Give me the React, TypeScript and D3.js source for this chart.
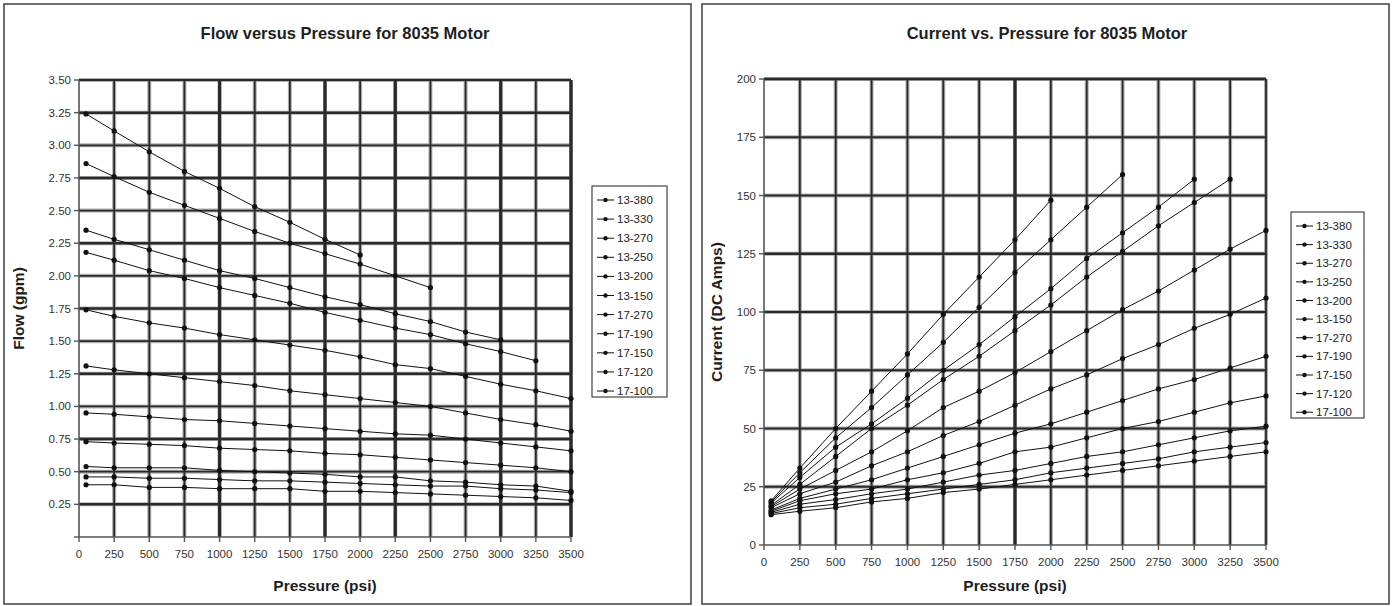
import React from 'react';
import * as d3 from 'd3';

// Pressure readings (psi) shared by both charts
const pressure = [50, 250, 500, 750, 1000, 1250, 1500, 1750, 2000, 2250, 2500, 2750, 3000, 3250, 3500];
const xTickValues = [0, 250, 500, 750, 1000, 1250, 1500, 1750, 2000, 2250, 2500, 2750, 3000, 3250, 3500];

const seriesNames = ['13-380', '13-330', '13-270', '13-250', '13-200', '13-150', '17-270', '17-190', '17-150', '17-120', '17-100'];

// Flow (gpm) per motor model
const flow13_380 = [3.24, 3.11, 2.95, 2.80, 2.67, 2.53, 2.41, 2.28, 2.16];
const flow13_330 = [2.86, 2.76, 2.64, 2.54, 2.44, 2.34, 2.25, 2.17, 2.09, 2.00, 1.91];
const flow13_270 = [2.35, 2.28, 2.20, 2.12, 2.04, 1.98, 1.91, 1.84, 1.78, 1.71, 1.65, 1.57, 1.51];
const flow13_250 = [2.18, 2.12, 2.04, 1.98, 1.91, 1.85, 1.79, 1.72, 1.66, 1.60, 1.55, 1.48, 1.42, 1.35];
const flow13_200 = [1.74, 1.69, 1.64, 1.60, 1.55, 1.51, 1.47, 1.43, 1.38, 1.32, 1.29, 1.23, 1.17, 1.12, 1.06];
const flow13_150 = [1.31, 1.28, 1.25, 1.22, 1.19, 1.16, 1.12, 1.09, 1.06, 1.03, 1.00, 0.95, 0.90, 0.86, 0.81];
const flow17_270 = [0.95, 0.94, 0.92, 0.90, 0.89, 0.87, 0.85, 0.83, 0.81, 0.79, 0.78, 0.75, 0.72, 0.69, 0.66];
const flow17_190 = [0.73, 0.72, 0.71, 0.70, 0.68, 0.67, 0.66, 0.64, 0.63, 0.61, 0.59, 0.57, 0.55, 0.53, 0.50];
const flow17_150 = [0.54, 0.53, 0.53, 0.53, 0.51, 0.50, 0.49, 0.48, 0.46, 0.46, 0.43, 0.42, 0.40, 0.39, 0.35];
const flow17_120 = [0.46, 0.46, 0.45, 0.45, 0.44, 0.43, 0.43, 0.42, 0.41, 0.40, 0.39, 0.39, 0.37, 0.36, 0.34];
const flow17_100 = [0.40, 0.40, 0.38, 0.38, 0.37, 0.37, 0.37, 0.35, 0.35, 0.34, 0.33, 0.32, 0.31, 0.30, 0.28];

// Current (DC amps) per motor model
const cur13_380 = [19, 33, 50, 66, 82, 99, 115, 131, 148];
const cur13_330 = [18.5, 31, 46, 59, 73, 87, 102, 117, 131, 145, 159];
const cur13_270 = [18, 29, 42, 52, 63, 75, 86, 98, 110, 123, 134, 145, 157];
const cur13_250 = [17, 26, 38, 50, 60, 71, 81, 92, 103, 115, 126, 137, 147, 157];
const cur13_200 = [16.5, 24, 32, 40, 49, 59, 66, 74, 83, 92, 101, 109, 118, 127, 135];
const cur13_150 = [16, 22, 27, 34, 40, 47, 53, 60, 67, 73, 80, 86, 93, 99, 106];
const cur17_270 = [15, 20, 24, 28, 33, 38, 43, 48, 52, 57, 62, 67, 71, 76, 81];
const cur17_190 = [14.5, 19, 22, 24, 28, 31, 35, 40, 42, 46, 50, 53, 57, 61, 64];
const cur17_150 = [14, 17.5, 19.5, 22, 24, 27, 30, 32, 35, 38, 40, 43, 46, 49, 51];
const cur17_120 = [13.5, 16, 17.5, 20, 22, 24, 26, 28, 31, 33, 35, 37, 40, 42, 44];
const cur17_100 = [13, 14.5, 16, 18.5, 20, 22.5, 24, 26, 28, 30, 32, 34, 36, 38, 40];

const flowTicks = [0.25, 0.5, 0.75, 1, 1.25, 1.5, 1.75, 2, 2.25, 2.5, 2.75, 3, 3.25, 3.5];
const currentTicks = [0, 25, 50, 75, 100, 125, 150, 175, 200];

const flowSeries = [flow13_380, flow13_330, flow13_270, flow13_250, flow13_200, flow13_150, flow17_270, flow17_190, flow17_150, flow17_120, flow17_100];
const currentSeries = [cur13_380, cur13_330, cur13_270, cur13_250, cur13_200, cur13_150, cur17_270, cur17_190, cur17_150, cur17_120, cur17_100];

const FONT = '"Liberation Sans", Arial, sans-serif';
const INK = '#1e1e1e';

type Box = { left: number; right: number; top: number; bottom: number };

type PanelProps = {
  frame: Box;
  plot: Box;
  title: string;
  titleX: number;
  yTitle: string;
  yTitleX: number;
  xTitleX: number;
  yDomain: [number, number];
  yTicks: number[];
  yFormat: (v: number) => string;
  series: number[][];
  legend: Box;
  heavyX: number[];
  heavyY: number[];
};

function Panel(p: PanelProps) {
  const x = d3.scaleLinear().domain([0, 3500]).range([p.plot.left, p.plot.right]);
  const y = d3.scaleLinear().domain(p.yDomain).range([p.plot.bottom, p.plot.top]);
  const line = d3
    .line<number>()
    .x((_, i) => x(pressure[i]))
    .y((d) => y(d));

  const gridY = p.yTicks.filter((t) => t > p.yDomain[0]);
  const gridX = xTickValues.filter((t) => t > 0);
  const rowH = (p.legend.bottom - p.legend.top - 12) / (seriesNames.length - 1) * 0.96;

  return (
    <g>
      <rect
        x={p.frame.left}
        y={p.frame.top}
        width={p.frame.right - p.frame.left}
        height={p.frame.bottom - p.frame.top}
        fill="#fff"
        stroke="#4a4a4a"
        strokeWidth={1.6}
      />
      <text x={p.titleX} y={39} textAnchor="middle" fontFamily={FONT} fontWeight="bold" fontSize={16.5} fill={INK}>
        {p.title}
      </text>

      {/* grid: soft halo under a dark core */}
      {gridX.map((t) => (
        <line key={'hx' + t} x1={x(t)} x2={x(t)} y1={p.plot.top} y2={p.plot.bottom} stroke="#b0b0b0" strokeWidth={4} />
      ))}
      {gridY.map((t) => (
        <line key={'hy' + t} x1={p.plot.left} x2={p.plot.right} y1={y(t)} y2={y(t)} stroke="#b0b0b0" strokeWidth={4} />
      ))}
      {gridX.map((t) => (
        <line
          key={'gx' + t}
          x1={x(t)}
          x2={x(t)}
          y1={p.plot.top}
          y2={p.plot.bottom}
          stroke="#2a2a2a"
          strokeWidth={p.heavyX.includes(t) ? 3.2 : 1.8}
        />
      ))}
      {gridY.map((t) => (
        <line
          key={'gy' + t}
          x1={p.plot.left}
          x2={p.plot.right}
          y1={y(t)}
          y2={y(t)}
          stroke="#2a2a2a"
          strokeWidth={p.heavyY.includes(t) ? 2.5 : 1.8}
        />
      ))}

      {/* axes */}
      <line x1={p.plot.left} x2={p.plot.left} y1={p.plot.top} y2={p.plot.bottom} stroke="#555" strokeWidth={1.6} />
      <line x1={p.plot.left} x2={p.plot.right} y1={p.plot.bottom} y2={p.plot.bottom} stroke="#555" strokeWidth={1.6} />
      {p.yTicks.concat(p.yTicks.includes(p.yDomain[0]) ? [] : [p.yDomain[0]]).map((t) => (
        <line key={'ty' + t} x1={p.plot.left - 5} x2={p.plot.left} y1={y(t)} y2={y(t)} stroke="#555" strokeWidth={1.4} />
      ))}
      {xTickValues.map((t) => (
        <line key={'tx' + t} x1={x(t)} x2={x(t)} y1={p.plot.bottom} y2={p.plot.bottom + 5} stroke="#555" strokeWidth={1.4} />
      ))}
      {p.yTicks.map((t) => (
        <text
          key={'ly' + t}
          x={p.plot.left - 8}
          y={y(t)}
          dy="0.35em"
          textAnchor="end"
          fontFamily={FONT}
          fontSize={11.5}
          fill="#333"
        >
          {p.yFormat(t)}
        </text>
      ))}
      {xTickValues.map((t) => (
        <text key={'lx' + t} x={x(t)} y={p.plot.bottom + 21} textAnchor="middle" fontFamily={FONT} fontSize={11.5} fill="#333">
          {t}
        </text>
      ))}

      <text x={p.xTitleX} y={591} textAnchor="middle" fontFamily={FONT} fontWeight="bold" fontSize={15.5} fill={INK}>
        Pressure (psi)
      </text>
      <text
        transform={`translate(${p.yTitleX},${(p.plot.top + p.plot.bottom) / 2}) rotate(-90)`}
        textAnchor="middle"
        fontFamily={FONT}
        fontWeight="bold"
        fontSize={15.5}
        fill={INK}
      >
        {p.yTitle}
      </text>

      {/* data */}
      {p.series.map((s, i) => (
        <path key={'s' + i} d={line(s) || ''} fill="none" stroke="#111" strokeWidth={1} />
      ))}
      {p.series.map((s, i) =>
        s.map((v, j) => <circle key={'m' + i + '-' + j} cx={x(pressure[j])} cy={y(v)} r={2.6} fill="#111" />)
      )}

      {/* legend */}
      <rect
        x={p.legend.left}
        y={p.legend.top}
        width={p.legend.right - p.legend.left}
        height={p.legend.bottom - p.legend.top}
        fill="#fff"
        stroke="#444"
        strokeWidth={1.2}
      />
      {seriesNames.map((name, i) => {
        const cy = p.legend.top + 14 + i * rowH;
        return (
          <g key={'lg' + name}>
            <line x1={p.legend.left + 5} x2={p.legend.left + 22} y1={cy} y2={cy} stroke="#111" strokeWidth={1} />
            <circle cx={p.legend.left + 13.5} cy={cy} r={2.2} fill="#111" />
            <text x={p.legend.left + 25} y={cy} dy="0.35em" fontFamily={FONT} fontSize={11.5} fill="#222">
              {name}
            </text>
          </g>
        );
      })}
    </g>
  );
}

export default function App() {
  return (
    <svg
      width={1395}
      height={606}
      viewBox="0 0 1395 606"
      style={{ position: 'absolute', left: 0, top: 0, background: '#fff' }}
    >
      <rect x={0} y={0} width={1395} height={606} fill="#fff" />
      <Panel
        frame={{ left: 4, right: 691, top: 4, bottom: 604 }}
        plot={{ left: 79, right: 571, top: 80, bottom: 537 }}
        title="Flow versus Pressure for 8035 Motor"
        titleX={345}
        yTitle="Flow (gpm)"
        yTitleX={24}
        xTitleX={325}
        yDomain={[0, 3.5]}
        yTicks={flowTicks}
        yFormat={(v) => v.toFixed(2)}
        series={flowSeries}
        legend={{ left: 592, right: 667, top: 186, bottom: 397 }}
        heavyX={[1000, 1750, 2250, 3000, 3500]}
        heavyY={[3.25, 2.75, 2.25, 1.75, 1.25, 0.75, 0.25]}
      />
      <Panel
        frame={{ left: 702, right: 1389, top: 4, bottom: 604 }}
        plot={{ left: 764, right: 1266, top: 79, bottom: 545 }}
        title="Current vs. Pressure for 8035 Motor"
        titleX={1047}
        yTitle="Current (DC Amps)"
        yTitleX={722}
        xTitleX={1015}
        yDomain={[0, 200]}
        yTicks={currentTicks}
        yFormat={(v) => String(v)}
        series={currentSeries}
        legend={{ left: 1291, right: 1364, top: 212, bottom: 418 }}
        heavyX={[1750]}
        heavyY={[125, 200]}
      />
    </svg>
  );
}
